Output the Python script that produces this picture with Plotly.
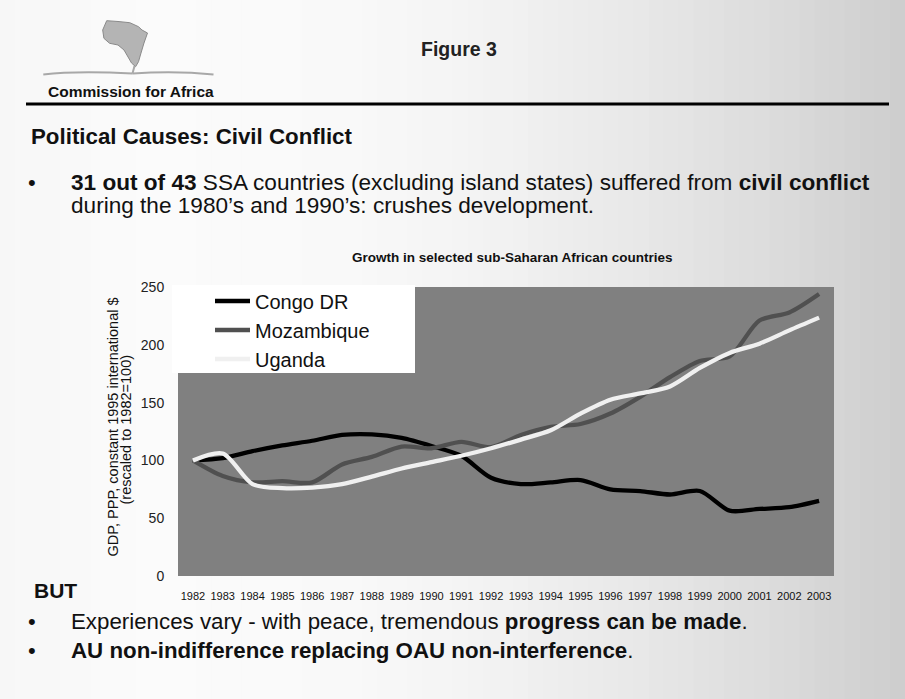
import plotly.graph_objects as go

# ---------------- data ----------------
years = list(range(1982, 2004))
year_labels = [str(y) for y in years]
congo = [100, 102, 108, 113, 117, 122, 122.5, 119.5, 112.5, 104, 85, 79.5,
         81, 83, 75, 73.5, 70.5, 73.5, 56.5, 58, 59.5, 65]
mozambique = [100, 86.5, 81, 82, 81, 96.5, 103, 112, 110.5, 116, 111.5, 122,
              129, 131.5, 140.5, 155, 172, 186, 190, 221, 228, 244]
uganda = [100, 106, 79.5, 76, 76.5, 79.5, 86, 93, 98.5, 104, 110.5, 118,
          126, 140.5, 152.5, 158, 164, 180, 193, 201, 212.5, 223.5]
series_names = ["Congo DR", "Mozambique", "Uganda"]
series_colors = ["#000000", "#505050", "#f0f0f0"]
y_ticks = [0, 50, 100, 150, 200, 250]

# ---------------- layout geometry (pixels) ----------------
W, H = 905, 699
L, R, T, B = 178, 834, 287, 576


def px(x):
    return (x - L) / (R - L)


def py(y):
    return (B - y) / (B - T)


FONT = "Liberation Sans, Arial, sans-serif"

fig = go.Figure()
for name, vals, col in zip(series_names, [congo, mozambique, uganda], series_colors):
    fig.add_trace(go.Scatter(
        x=years, y=vals, name=name, mode="lines",
        line=dict(color=col, width=4.3, shape="spline", smoothing=0.8),
    ))

shapes = []
# background gradient strips (left light -> right darker)
stops = [(0, 247), (150, 251), (350, 249), (500, 242), (650, 231), (780, 219), (905, 205)]
nstrip = 60
for i in range(nstrip):
    x0 = W * i / nstrip
    x1 = W * (i + 1) / nstrip
    xm = (x0 + x1) / 2
    for (a, va), (b, vb) in zip(stops[:-1], stops[1:]):
        if a <= xm <= b:
            v = int(round(va + (vb - va) * (xm - a) / (b - a)))
            break
    shapes.append(dict(type="rect", xref="paper", yref="paper", layer="below",
                       x0=px(x0), x1=px(x1 + 1), y0=py(H), y1=py(0),
                       fillcolor=f"rgb({v},{v},{v})", line=dict(width=0)))
# plot area
shapes.append(dict(type="rect", xref="paper", yref="paper", layer="below",
                   x0=0, x1=1, y0=0, y1=1, fillcolor="#808080", line=dict(width=0)))
# legend white box
shapes.append(dict(type="rect", xref="paper", yref="paper", layer="below",
                   x0=px(172), x1=px(415), y0=py(373), y1=py(285),
                   fillcolor="#ffffff", line=dict(width=0)))
# header rule
shapes.append(dict(type="line", xref="paper", yref="paper",
                   x0=px(26), x1=px(889), y0=py(104), y1=py(104),
                   line=dict(color="#000000", width=3)))

# logo: Africa outline + base wave
africa = [(106.7, 20.7), (118, 21.5), (129.8, 22.7), (138.5, 26.7), (142, 30),
          (147.5, 33), (144, 43), (141, 53), (138.5, 61.7), (135.6, 66.7),
          (131.5, 63), (129.8, 60), (124, 50), (118, 45), (109.6, 43.3),
          (103.9, 38.3), (102.7, 30)]
path = "M " + " L ".join(f"{px(a):.5f},{py(b):.5f}" for a, b in africa) + " Z"
shapes.append(dict(type="path", xref="paper", yref="paper", path=path,
                   fillcolor="#b4b4b4", line=dict(color="#8a8a8a", width=1)))
wave_pts = [(43.3, 74.5), (69, 71.5), (112, 72.5), (132.7, 73.5)]
wave_pts2 = [(132.7, 73.5), (160, 71.5), (190, 72), (213.5, 74.5)]


def cubic(pts):
    (a0, b0), (a1, b1), (a2, b2), (a3, b3) = pts
    return (f"M {px(a0):.5f},{py(b0):.5f} C {px(a1):.5f},{py(b1):.5f} "
            f"{px(a2):.5f},{py(b2):.5f} {px(a3):.5f},{py(b3):.5f}")


for wp in (wave_pts, wave_pts2):
    shapes.append(dict(type="path", xref="paper", yref="paper", path=cubic(wp),
                       line=dict(color="#a8a8a8", width=2)))
shapes.append(dict(type="line", xref="paper", yref="paper",
                   x0=px(134.5), x1=px(132.5), y0=py(66), y1=py(73.5),
                   line=dict(color="#a8a8a8", width=2)))

annotations = []


def text(t, x, y, size, bold=False, xanchor="left", color="#111111", angle=0):
    annotations.append(dict(
        text=f"<b>{t}</b>" if bold else t, x=px(x), y=py(y), xref="paper", yref="paper",
        xanchor=xanchor, yanchor="middle", showarrow=False, textangle=angle,
        font=dict(family=FONT, size=size, color=color)))


text("Figure 3", 459, 49, 19.5, bold=True, xanchor="center", color="#222222")
text("Commission for Africa", 46, 91, 15.5, bold=True)
text("Political Causes: Civil Conflict", 29, 136.5, 22.3, bold=True)
text("•", 32, 182, 22, xanchor="center")
text("<b>31 out of 43</b> SSA countries (excluding island states) suffered from <b>civil conflict</b>",
     69, 182, 22.6)
text("during the 1980’s and 1990’s: crushes development.", 69, 206, 22.6)
text("Growth in selected sub-Saharan African countries", 512, 257, 13.5, bold=True,
     xanchor="center")
text("GDP, PPP, constant 1995 international $", 112.5, 427, 14.5, xanchor="center", angle=-90)
text("(rescaled to 1982=100)", 125.5, 430, 14.5, xanchor="center", angle=-90)
text("BUT", 32, 590.5, 21, bold=True)
text("•", 32, 621, 22, xanchor="center")
text("Experiences vary - with peace, tremendous <b>progress can be made</b>.", 69, 621, 22.3)
text("•", 32, 650, 22, xanchor="center")
text("<b>AU non-indifference replacing OAU non-interference</b>.", 69, 650, 22.3)

fig.update_layout(
    width=W, height=H,
    margin=dict(l=L, r=W - R, t=T, b=H - B, pad=0),
    paper_bgcolor="#f2f2f2",
    plot_bgcolor="#808080",
    font=dict(family=FONT, color="#111111"),
    shapes=shapes,
    annotations=annotations,
    showlegend=True,
    legend=dict(x=px(210), y=py(281.5), xanchor="left", yanchor="top",
                bgcolor="rgba(0,0,0,0)", itemwidth=35,
                font=dict(family=FONT, size=20, color="#111111")),
    xaxis=dict(range=[1981.5, 2003.5], tickvals=years, ticktext=year_labels,
               showgrid=False, zeroline=False, showline=False,
               ticks="outside", ticklen=10, tickcolor="rgba(0,0,0,0)",
               tickfont=dict(family=FONT, size=11, color="#111111"),
               tickprefix="<b>", ticksuffix="</b>"),
    yaxis=dict(range=[0, 250], tickvals=y_ticks, showgrid=False, zeroline=False,
               showline=False, ticks="outside", ticklen=10,
               tickcolor="rgba(0,0,0,0)",
               tickfont=dict(family=FONT, size=14, color="#222222")),
)

fig.write_html("out.html",
               config={"displayModeBar": False, "staticPlot": True},
               post_script="document.body.style.margin='0';"
                           "document.body.style.overflow='hidden';")
